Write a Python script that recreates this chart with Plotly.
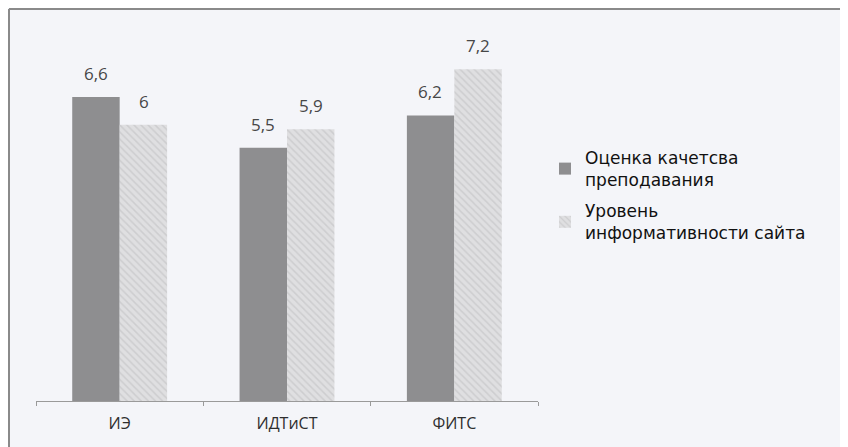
import plotly.graph_objects as go

categories = ["ИЭ", "ИДТиСТ", "ФИТС"]
teaching_quality = [6.6, 5.5, 6.2]
site_informativeness = [6.0, 5.9, 7.2]
series_names = ["Оценка качетсва<br>преподавания", "Уровень<br>информативности сайта"]


def fmt(v):
    s = f"{v:g}"
    return s.replace(".", ",")


L, R, T, B = 28, 318, 12, 54
W = 848 - L - R
H = 447 - T - B

fig = go.Figure()
fig.add_trace(go.Bar(
    x=categories, y=teaching_quality, name=series_names[0], legendgroup="g1",
    marker=dict(color="#8e8e90", line=dict(width=0)),
))
fig.add_trace(go.Bar(
    x=categories, y=site_informativeness, name=series_names[1], legendgroup="g2",
    marker=dict(color="#dcdcde", line=dict(width=0),
                pattern=dict(shape="\\", fgcolor="#bcbcbe", bgcolor="#dfdfe1", size=5, solidity=0.3)),
))

annotations = []
for series, shift in ((teaching_quality, -24), (site_informativeness, 24)):
    for c, v in zip(categories, series):
        annotations.append(dict(x=c, y=v, xref="x", yref="y", text=fmt(v),
                                showarrow=False, xshift=shift, yanchor="bottom", yshift=10,
                                font=dict(size=17, color="#474747", family="Open Sans")))

fig.update_layout(
    width=848, height=447,
    margin=dict(l=L, r=R, t=T, b=B),
    paper_bgcolor="#f4f5f9", plot_bgcolor="#f4f5f9",
    barmode="group", bargap=0.433, bargroupgap=0,
    showlegend=True,
    legend=dict(x=(537 - L) / W, y=0.685, xanchor="left", yanchor="top",
                font=dict(size=17, color="#111111", family="DejaVu Sans"),
                tracegroupgap=6, itemwidth=30, bgcolor="rgba(0,0,0,0)"),
    font=dict(family="Open Sans"),
    annotations=annotations,
)
fig.update_xaxes(showline=True, linecolor="#9a9a9a", linewidth=1,
                 ticks="outside", ticklen=4, tickcolor="#9a9a9a",
                 tickson="boundaries", showgrid=False, ticklabelstandoff=8,
                 tickfont=dict(size=16, color="#2e2e2e", family="Open Sans"))
fig.update_yaxes(range=[0, H / 46.06], visible=False, showgrid=False)

# outer frame (top and left edges)
fig.add_shape(type="line", xref="paper", yref="paper",
              x0=-27 / W, x1=(848 - L) / W, y0=1 + 11 / H, y1=1 + 11 / H,
              line=dict(color="#8a8a8a", width=2))
fig.add_shape(type="line", xref="paper", yref="paper",
              x0=-27 / W, x1=-27 / W, y0=1 + 11 / H, y1=-B / H,
              line=dict(color="#8a8a8a", width=2))

fig.write_html("out.html")
